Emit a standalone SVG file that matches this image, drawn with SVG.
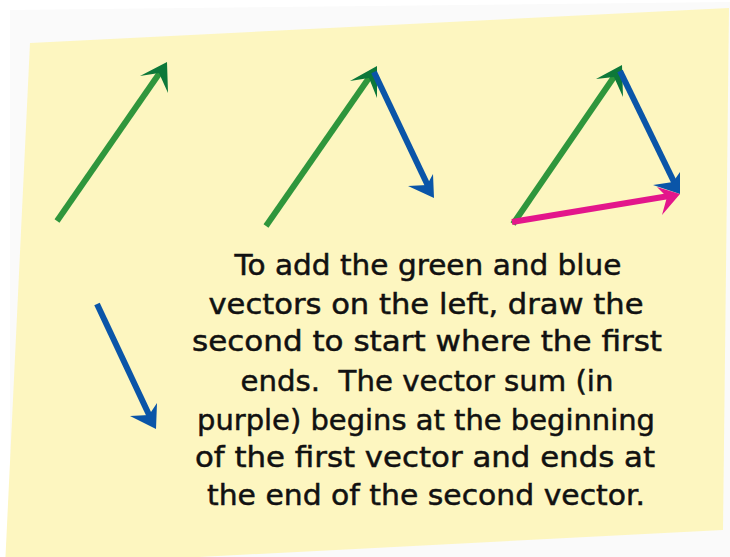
<svg xmlns="http://www.w3.org/2000/svg" width="730" height="557" viewBox="0 0 730 557">
<style>
.sheet{fill:#fdf6c0}
.shadow{fill:#fafafa}
.g{stroke:#2f963c;stroke-width:6;fill:none}
.gh{fill:#0d7839}
.b{stroke:#0a55a8;stroke-width:6;fill:none}
.bh{fill:#0a55a8}
.m{stroke:#e3168b;stroke-width:6;fill:none}
.mh{fill:#e3168b}
.t{font-family:"DejaVu Sans","Liberation Sans",sans-serif;font-size:29px;fill:#111;stroke:#111;stroke-width:0.5;text-anchor:middle}
</style>
<rect width="730" height="557" fill="#ffffff"/>
<polygon class="shadow" points="10,10 730,2 730,557 10,557"/>
<polygon class="sheet" points="30,43 729,8 723,530 5,567"/>
<g id="connectors">
  <g id="arrow-green-1">
    <line class="g" x1="57" y1="221" x2="161" y2="71"/>
    <polygon class="gh" points="167,62 140,76 159,73 168,93"/>
  </g>
  <g id="arrow-green-2">
    <line class="g" x1="266" y1="226" x2="371" y2="75"/>
    <polygon class="gh" points="377,66 350,81 369,78 377,98"/>
  </g>
  <g id="arrow-blue-2">
    <line class="b" x1="374" y1="72" x2="429" y2="188"/>
    <polygon class="bh" points="434,198 408,186 427,185 433,174"/>
  </g>
  <g id="arrow-green-3">
    <line class="g" x1="513" y1="224" x2="616" y2="74"/>
    <polygon class="gh" points="622,65 596,79 614,77 623,97"/>
  </g>
  <g id="arrow-blue-3">
    <line class="b" x1="620" y1="71" x2="675" y2="184"/>
    <polygon class="bh" points="680,194 653,185 673,182 680,172"/>
  </g>
  <g id="arrow-magenta">
    <line class="m" x1="512" y1="222" x2="669" y2="196"/>
    <polygon class="mh" points="680,194 657,187 667,197 662,215"/>
  </g>
  <g id="arrow-blue-lone">
    <line class="b" x1="97" y1="304" x2="151" y2="419"/>
    <polygon class="bh" points="156,429 130,416 149,415 157,403"/>
  </g>
</g>
<g id="caption">
  <text class="t" x="428" y="275" textLength="387" lengthAdjust="spacingAndGlyphs">To add the green and blue</text>
  <text class="t" x="426" y="314" textLength="435" lengthAdjust="spacingAndGlyphs">vectors on the left, draw the</text>
  <text class="t" x="427" y="351" textLength="470" lengthAdjust="spacingAndGlyphs">second to start where the first</text>
  <text class="t" x="427" y="391" textLength="373" lengthAdjust="spacingAndGlyphs" xml:space="preserve">ends.  The vector sum (in</text>
  <text class="t" x="426" y="430" textLength="458" lengthAdjust="spacingAndGlyphs">purple) begins at the beginning</text>
  <text class="t" x="425" y="467" textLength="460" lengthAdjust="spacingAndGlyphs">of the first vector and ends at</text>
  <text class="t" x="426" y="505" textLength="438" lengthAdjust="spacingAndGlyphs">the end of the second vector.</text>
</g>
</svg>
